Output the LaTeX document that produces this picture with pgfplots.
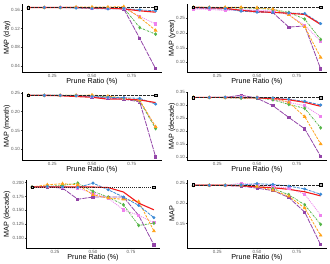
\documentclass[border=0pt]{standalone}
\usepackage{fontspec}
\setmainfont{Liberation Sans}
\usepackage{pgfplots}
\usepackage{pgfplotstable}
\pgfplotsset{compat=1.18}
\definecolor{cbl}{HTML}{000000}
\definecolor{cre}{HTML}{F21A1A}
\definecolor{cbu}{HTML}{3D8BD6}
\definecolor{cor}{HTML}{FFA31A}
\definecolor{cgr}{HTML}{55B548}
\definecolor{cpi}{HTML}{EE82EE}
\definecolor{cpu}{HTML}{9345A8}

\pgfplotstableread{
x bl re bu or gr pi pu
0.1 0.165 0.165 0.165 0.165 0.165 0.165 0.165
0.2 0.165 0.165 0.165 0.165 0.165 0.165 0.165
0.3 0.165 0.165 0.165 0.165 0.165 0.165 0.165
0.4 0.165 0.165 0.164 0.166 0.165 0.165 0.165
0.5 0.165 0.164 0.163 0.166 0.165 0.164 0.164
0.6 0.165 0.164 0.162 0.166 0.164 0.163 0.163
0.7 0.165 0.162 0.163 0.167 0.164 0.163 0.162
0.8 0.165 0.158 0.160 0.144 0.122 0.146 0.099
0.9 0.165 0.155 0.158 0.116 0.108 0.130 0.034
}\tday
\pgfplotstableread{
x bl re bu or gr pi pu
0.1 0.287 0.287 0.287 0.287 0.287 0.281 0.285
0.2 0.287 0.286 0.286 0.287 0.287 0.280 0.283
0.3 0.287 0.284 0.283 0.287 0.286 0.276 0.281
0.4 0.287 0.277 0.274 0.287 0.285 0.279 0.277
0.5 0.287 0.272 0.271 0.286 0.284 0.278 0.275
0.6 0.287 0.270 0.270 0.281 0.280 0.275 0.269
0.7 0.287 0.267 0.268 0.262 0.270 0.262 0.220
0.8 0.287 0.263 0.266 0.221 0.247 0.226 0.224
0.9 0.287 0.229 0.232 0.117 0.178 0.172 0.078
}\tyear
\pgfplotstableread{
x bl re bu or gr pi pu
0.1 0.243 0.243 0.243 0.243 0.243 0.243 0.243
0.2 0.243 0.243 0.243 0.243 0.243 0.243 0.243
0.3 0.243 0.242 0.243 0.243 0.243 0.243 0.243
0.4 0.243 0.240 0.242 0.243 0.243 0.242 0.242
0.5 0.243 0.238 0.240 0.244 0.242 0.241 0.239
0.6 0.243 0.233 0.238 0.241 0.239 0.238 0.236
0.7 0.243 0.233 0.237 0.236 0.235 0.234 0.233
0.8 0.243 0.231 0.235 0.230 0.228 0.228 0.226
0.9 0.243 0.224 0.220 0.160 0.155 0.158 0.080
}\tmonth
\pgfplotstableread{
x bl re bu or gr pi pu
0.1 0.329 0.329 0.329 0.329 0.329 0.329 0.329
0.2 0.329 0.329 0.329 0.329 0.329 0.329 0.329
0.3 0.329 0.329 0.330 0.329 0.328 0.329 0.329
0.4 0.329 0.328 0.330 0.330 0.326 0.332 0.338
0.5 0.329 0.327 0.329 0.329 0.327 0.329 0.326
0.6 0.329 0.325 0.327 0.326 0.320 0.322 0.297
0.7 0.329 0.320 0.322 0.310 0.302 0.310 0.252
0.8 0.329 0.310 0.314 0.255 0.287 0.297 0.208
0.9 0.329 0.295 0.300 0.150 0.212 0.257 0.102
}\tdecA
\pgfplotstableread{
x bl re bu or gr pi pu
0.1 0.192 0.192 0.192 0.192 0.192 0.192 0.192
0.2 0.192 0.192 0.193 0.196 0.193 0.193 0.192
0.3 0.192 0.192 0.192 0.198 0.195 0.191 0.190
0.4 0.192 0.192 0.191 0.196 0.199 0.190 0.170
0.5 0.192 0.192 0.199 0.178 0.184 0.181 0.174
0.6 0.192 0.191 0.187 0.172 0.174 0.172 0.174
0.7 0.192 0.183 0.174 0.170 0.160 0.151 0.174
0.8 0.192 0.163 0.159 0.166 0.123 0.141 0.141
0.9 0.192 0.151 0.137 0.113 0.127 0.128 0.088
}\tdecB
\pgfplotstableread{
x bl re bu or gr pi pu
0.1 0.245 0.244 0.244 0.244 0.244 0.244 0.244
0.2 0.245 0.244 0.244 0.244 0.244 0.244 0.244
0.3 0.245 0.244 0.244 0.244 0.244 0.244 0.243
0.4 0.245 0.243 0.245 0.244 0.244 0.249 0.242
0.5 0.245 0.240 0.248 0.241 0.242 0.245 0.237
0.6 0.245 0.238 0.246 0.232 0.236 0.241 0.231
0.7 0.245 0.234 0.242 0.217 0.221 0.237 0.214
0.8 0.245 0.228 0.235 0.188 0.196 0.222 0.178
0.9 0.245 0.218 0.222 0.121 0.148 0.171 0.098
}\tmap

\pgfplotsset{
  panel/.style={
    scale only axis, width=140pt, height=68pt,
    anchor=south west,
    xmin=0.06, xmax=0.94,
    axis lines*=left,
    axis line style={black, line width=0.5pt},
    xtick={0.25,0.5,0.75},
    xticklabel style={/pgf/number format/fixed, /pgf/number format/fixed zerofill, /pgf/number format/precision=2},
    yticklabel style={/pgf/number format/fixed, /pgf/number format/fixed zerofill, /pgf/number format/precision=2},
    /pgf/number format/assume math mode=true,
    tick style={black!70, line width=0.4pt},
    major tick length=1.3pt,
    tick align=outside,
    ticklabel style={font=\fontsize{4.5}{5}\selectfont, text=black!65, inner sep=0.6pt},
    xlabel={Prune Ratio (\%)},
    label style={font=\fontsize{7.2}{8}\selectfont},
    xlabel style={at={(axis description cs:0.5,0)}, anchor=center, yshift=-10pt},
    ylabel style={at={(axis description cs:0,0.5)}, anchor=center, yshift=15pt},
    clip=false,
    mark size=1.1pt,
  },
  pbl/.style={black!85, line width=0.5pt, dash pattern=on 1.2pt off 1.2pt on 0.4pt off 1.2pt, mark=square*, mark size=1.3pt, mark indices={1,9}, mark options={solid, fill=gray!55, draw=black, line width=0.4pt}},
  pre/.style={cre, line width=1.1pt, mark=none},
  pbu/.style={cbu, line width=0.8pt, dash pattern=on 3pt off 1pt, mark=*, mark options={solid, fill=cbu}},
  por/.style={cor, line width=0.8pt, dash pattern=on 2.5pt off 1.2pt, mark=triangle*, mark size=1.4pt, mark options={solid, fill=cor}},
  pgr/.style={cgr, line width=0.8pt, dash pattern=on 2pt off 1pt on 0.6pt off 1pt, mark=diamond*, mark size=1.3pt, mark options={solid, fill=cgr}},
  ppi/.style={cpi, line width=0.8pt, dash pattern=on 1pt off 1pt, mark=square*, mark options={solid, fill=cpi}},
  ppu/.style={cpu, line width=0.8pt, dash pattern=on 5pt off 1pt, mark=square*, mark options={solid, fill=cpu}},
}
\newcommand{\plotall}[1]{%
  \addplot[ppu] table[x=x,y=pu]{#1};
  \addplot[ppi] table[x=x,y=pi]{#1};
  \addplot[pgr] table[x=x,y=gr]{#1};
  \addplot[por] table[x=x,y=or]{#1};
  \addplot[pbu] table[x=x,y=bu]{#1};
  \addplot[pre] table[x=x,y=re]{#1};
  \addplot[pbl] table[x=x,y=bl]{#1};
}

\begin{document}
\begin{tikzpicture}
\path[use as bounding box] (0pt,0pt) rectangle (330pt,264pt);
\begin{axis}[panel, at={(22pt,192pt)}, ymin=0.027, ymax=0.1726,
  ytick={0.04,0.08,0.12,0.16}, ylabel={MAP (day)}]
\plotall{\tday}
\end{axis}
\begin{axis}[panel, at={(187pt,192pt)}, ymin=0.0675, ymax=0.2985,
  ytick={0.10,0.15,0.20,0.25}, ylabel={MAP (year)}]
\plotall{\tyear}
\end{axis}
\begin{axis}[panel, at={(22pt,104pt)}, ymin=0.0718, ymax=0.252,
  ytick={0.10,0.15,0.20,0.25}, ylabel={MAP (month)}]
\plotall{\tmonth}
\end{axis}
\begin{axis}[panel, at={(187pt,104pt)}, ymin=0.088, ymax=0.350,
  ytick={0.10,0.15,0.20,0.25,0.30,0.35}, ylabel={MAP (decade)}]
\plotall{\tdecA}
\end{axis}
\begin{axis}[panel, at={(26pt,16pt)}, width=134pt, ymin=0.0824, ymax=0.2046,
  ytick={0.100,0.125,0.150,0.175,0.200}, ylabel={MAP (decade)},
  ylabel style={yshift=4pt},
  yticklabel style={/pgf/number format/precision=3}]
\plotall{\tdecB}
\end{axis}
\begin{axis}[panel, at={(187pt,16pt)}, ymin=0.090, ymax=0.257,
  ytick={0.15,0.20,0.25}, ylabel={MAP}]
\plotall{\tmap}
\end{axis}
\end{tikzpicture}
\end{document}
